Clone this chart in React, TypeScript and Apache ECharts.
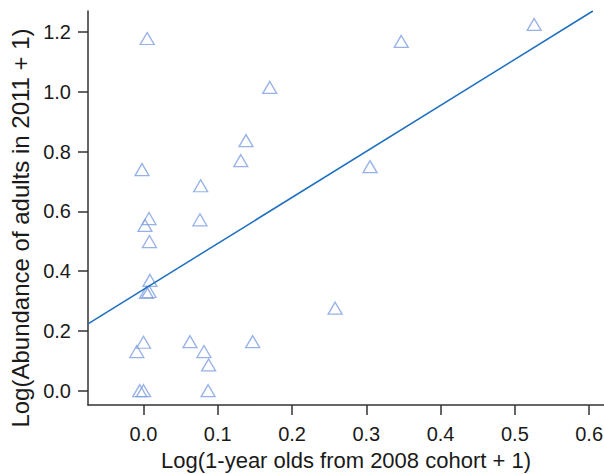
import React, { useEffect, useRef } from "react";
import * as echarts from "echarts";

const xValues = [
  0.005, 0.526, 0.347, 0.17, 0.138, 0.131, -0.002, 0.077, 0.305, 0.0074,
  0.002, 0.076, 0.008, 0.0087, 0.0074, 0.004, 0.258, 0.0, -0.009, 0.0626,
  0.0814, 0.0877, 0.147, -0.005, 0.0, 0.087,
];
const yValues = [
  1.179, 1.226, 1.169, 1.015, 0.837, 0.77, 0.74, 0.686, 0.75, 0.576,
  0.553, 0.572, 0.499, 0.369, 0.332, 0.329, 0.276, 0.162, 0.131, 0.164,
  0.131, 0.086, 0.164, 0.0, 0.0, 0.0,
];
const xTicks = [0, 0.1, 0.2, 0.3, 0.4, 0.5, 0.6];
const yTicks = [0, 0.2, 0.4, 0.6, 0.8, 1.0, 1.2];
const X_MIN = -0.0747;
const X_MAX = 0.62;
const Y_MIN = -0.048;
const Y_MAX = 1.271;
const FIT_SLOPE = 1.541;
const FIT_INTERCEPT = 0.3387;

export default function App() {
  const ref = useRef<HTMLDivElement>(null);
  useEffect(() => {
    if (!ref.current) return;
    const chart = echarts.init(ref.current, undefined, { renderer: "svg" });
    const points = xValues.map((x, i) => [x, yValues[i]]);
    const xEnd = Math.min(X_MAX, (Y_MAX - FIT_INTERCEPT) / FIT_SLOPE);
    const fit = [
      [X_MIN, FIT_INTERCEPT + FIT_SLOPE * X_MIN],
      [xEnd, FIT_INTERCEPT + FIT_SLOPE * xEnd],
    ];
    const font = "'Liberation Sans', Arial, sans-serif";
    chart.setOption({
      animation: false,
      backgroundColor: "#ffffff",
      grid: { left: 88, right: 0, top: 11, bottom: 69, outerBoundsMode: "none" },
      xAxis: {
        type: "value",
        min: X_MIN,
        max: X_MAX,
        name: "Log(1-year olds from 2008 cohort + 1)",
        nameLocation: "middle",
        nameGap: 44,
        nameTextStyle: { fontSize: 22, color: "#1a1a1a", fontFamily: font },
        splitLine: { show: false },
        axisLine: { show: true, onZero: false, lineStyle: { color: "#333", width: 1.5 } },
        axisTick: { show: true, length: 10, customValues: xTicks, lineStyle: { color: "#333", width: 1.5 } },
        axisLabel: {
          customValues: xTicks,
          margin: 19,
          fontSize: 20,
          color: "#1a1a1a",
          fontFamily: font,
          formatter: (v: number) => v.toFixed(1),
        },
      },
      yAxis: {
        type: "value",
        min: Y_MIN,
        max: Y_MAX,
        name: "Log(Abundance of adults in 2011 + 1)",
        nameLocation: "middle",
        nameGap: 49,
        nameTextStyle: { fontSize: 24, color: "#1a1a1a", fontFamily: font, padding: [0, 40, 0, 0] },
        splitLine: { show: false },
        axisLine: { show: true, onZero: false, lineStyle: { color: "#333", width: 1.5 } },
        axisTick: { show: true, length: 10, customValues: yTicks, lineStyle: { color: "#333", width: 1.5 } },
        axisLabel: {
          customValues: yTicks,
          margin: 17,
          fontSize: 20,
          color: "#1a1a1a",
          fontFamily: font,
          formatter: (v: number) => v.toFixed(1),
        },
      },
      series: [
        {
          type: "line",
          data: fit,
          symbol: "none",
          lineStyle: { color: "#1f6fbf", width: 1.5 },
          z: 3,
        },
        {
          type: "scatter",
          data: points,
          symbol: "triangle",
          symbolSize: [14, 12],
          itemStyle: { color: "rgba(0,0,0,0)", borderColor: "#7d9fe0", borderWidth: 1.3 },
          z: 2,
        },
      ],
    });
    return () => chart.dispose();
  }, []);
  return (
    <div
      ref={ref}
      style={{ position: "fixed", left: 0, top: 0, width: 604, height: 474 }}
    />
  );
}
